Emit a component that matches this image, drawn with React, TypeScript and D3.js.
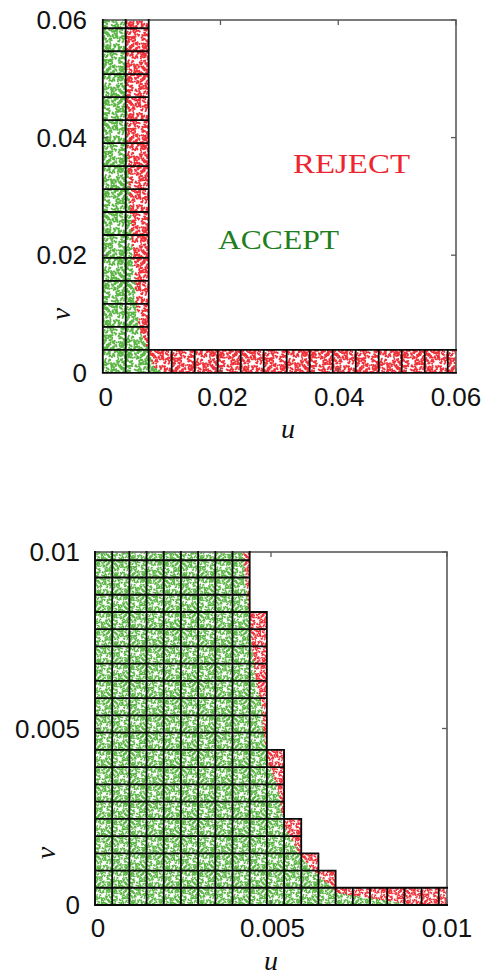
import React from "react";
import * as d3 from "d3";

// ---- data ----
const topDomain = [0, 0.06];
const topTicks = [0, 0.02, 0.04, 0.06];
const topTickLabels = ["0", "0.02", "0.04", "0.06"];
const topCellSize = 1 / 256;
const topColumnRows = [16, 16, 1, 1, 1, 1, 1, 1, 1, 1, 1, 1, 1, 1, 1, 1];
const topBoundaryV = [0, 0.0011, 0.0037, 0.0039, 0.0061, 0.0076, 0.0112, 0.0153, 0.0226, 0.038, 0.06];
const topBoundaryU = [0.0106, 0.0086, 0.0079, 0.0078, 0.0066, 0.0063, 0.0058, 0.0055, 0.005, 0.0042, 0.0039];

const bottomDomain = [0, 0.01];
const bottomTicks = [0, 0.005, 0.01];
const bottomTickLabels = ["0", "0.005", "0.01"];
const bottomCellSize = 1 / 2048;
const bottomColumnRows = [21, 21, 21, 21, 21, 21, 21, 21, 21, 17, 9, 5, 3, 2, 1, 1, 1, 1, 1, 1, 1];
const bottomBoundaryV = [0, 0.00006, 0.00034, 0.0008, 0.0013, 0.0018, 0.0022, 0.0027, 0.0031, 0.0037, 0.0041, 0.005, 0.0056, 0.0061, 0.0066, 0.0075, 0.0091, 0.0095, 0.01];
const bottomBoundaryU = [0.0095, 0.0087, 0.0069, 0.0064, 0.0059, 0.00563, 0.0054, 0.0053, 0.00525, 0.00506, 0.0049, 0.00478, 0.00474, 0.00463, 0.00455, 0.00445, 0.0043, 0.00426, 0.0042];

// hand-placed speckle inside one cell, in percent of the cell
const speckleX = [3, 11, 19, 28, 36, 47, 55, 63, 74, 82, 91, 97, 6, 15, 24, 33, 41, 52, 59, 69, 78, 87, 95, 2, 9, 21, 30, 38, 44, 57, 66, 72, 84, 93, 14, 26, 35, 49, 61, 76, 89, 5, 17, 31, 43, 53, 67, 80, 98, 8, 23, 39, 51, 64, 71, 85, 94, 12, 27, 46, 58, 77, 88, 4, 20, 37, 50, 62, 73, 83, 96, 16, 29, 42, 56, 68, 79, 90];
const speckleY = [7, 3, 12, 5, 9, 2, 14, 6, 11, 4, 8, 15, 22, 18, 27, 19, 24, 17, 29, 21, 16, 26, 23, 35, 41, 33, 38, 30, 44, 36, 31, 42, 34, 39, 50, 47, 55, 43, 48, 52, 46, 58, 63, 53, 60, 65, 56, 61, 51, 72, 68, 75, 70, 66, 78, 69, 74, 85, 81, 77, 83, 73, 88, 93, 89, 84, 92, 87, 96, 80, 82, 98, 95, 99, 90, 94, 86, 97];
// how the two lists above are paired up into dots
const specklePairings = [37, 23, 17];
// gaps in the speckle, in percent of the cell
const gapX = [24, 68, 52, 14, 84, 42, 78, 34, 8, 60];
const gapY = [30, 18, 58, 72, 68, 90, 42, 50, 14, 84];
const gapR = [9, 8, 10, 8, 7, 7, 6, 6, 6, 6];

const GREEN = "#5ab544";
const RED = "#ee3038";
const FRAME = "#5a5a5a";
const SANS = "'Liberation Sans', Arial, sans-serif";
const SERIF = "'Liberation Serif', serif";

function speckleInCell(i: number, j: number) {
  const k = (i * 3 + j * 5) % 4;
  const out: [number, number][] = [];
  const keep = (p: [number, number]) => {
    const inGap = gapX.some((gx, n) => Math.hypot(p[0] - gx, p[1] - gapY[n]) < gapR[n]);
    if (inGap) return;
    out.push(k === 0 ? p : k === 1 ? [p[1], 100 - p[0]] : k === 2 ? [100 - p[0], 100 - p[1]] : [100 - p[1], p[0]]);
  };
  speckleX.forEach((px, n) => {
    specklePairings.forEach((m) => keep([px, speckleY[(n * m + m) % speckleY.length]]));
  });
  return out;
}

type PanelProps = {
  x0: number; x1: number; y0: number; y1: number;
  domain: number[]; ticks: number[]; tickLabels: string[];
  cell: number; columnRows: number[]; boundaryV: number[]; boundaryU: number[];
  dotWidth: number; clipId: string;
  xLabelY: number; uX: number; uY: number; vX: number; vY: number; yLabelX: number; xLabelNudge: number;
};

function Panel(p: PanelProps) {
  const x = d3.scaleLinear().domain(p.domain).range([p.x0, p.x1]);
  const y = d3.scaleLinear().domain(p.domain).range([p.y1, p.y0]);
  const boundary = d3.scaleLinear().domain(p.boundaryV).range(p.boundaryU).clamp(true);
  const green = d3.path();
  const red = d3.path();
  const grid = d3.path();
  p.columnRows.forEach((rows, i) => {
    for (let j = 0; j < rows; j++) {
      for (const [px, py] of speckleInCell(i, j)) {
        const u = (i + px / 100) * p.cell;
        const v = (j + py / 100) * p.cell;
        if (u > p.domain[1] || v > p.domain[1]) continue;
        const path = u < boundary(v) ? green : red;
        path.moveTo(x(u), y(v));
        path.lineTo(x(u) + 0.01, y(v));
      }
      grid.rect(x(i * p.cell), y((j + 1) * p.cell), x(p.cell) - x(0), y(0) - y(p.cell));
    }
  });
  return (
    <g>
      <defs>
        <clipPath id={p.clipId}><rect x={p.x0} y={p.y0} width={p.x1 - p.x0} height={p.y1 - p.y0} /></clipPath>
        <clipPath id={`${p.clipId}g`}><rect x={p.x0 - 1} y={p.y0 - 1} width={p.x1 - p.x0 + 2} height={p.y1 - p.y0 + 2} /></clipPath>
      </defs>
      <g clipPath={`url(#${p.clipId})`} filter="url(#soft)">
        <path d={green.toString()} fill="none" stroke={GREEN} strokeWidth={p.dotWidth} strokeLinecap="round" />
        <path d={red.toString()} fill="none" stroke={RED} strokeWidth={p.dotWidth} strokeLinecap="round" />
      </g>
      <rect x={p.x0} y={p.y0} width={p.x1 - p.x0} height={p.y1 - p.y0} fill="none" stroke={FRAME} strokeWidth={1.6} />
      {p.ticks.map((t) => (
        <g key={t} stroke={FRAME} strokeWidth={1.3}>
          <line x1={x(t)} x2={x(t)} y1={p.y1} y2={p.y1 - 5} />
          <line x1={x(t)} x2={x(t)} y1={p.y0} y2={p.y0 + 5} />
          <line x1={p.x0} x2={p.x0 + 5} y1={y(t)} y2={y(t)} />
          <line x1={p.x1} x2={p.x1 - 5} y1={y(t)} y2={y(t)} />
        </g>
      ))}
      <g clipPath={`url(#${p.clipId}g)`}>
        <path d={grid.toString()} fill="none" stroke="#0a0a0a" strokeWidth={1.8} />
      </g>
      {p.ticks.map((t, i) => (
        <text key={`y${t}`} x={p.yLabelX} y={y(t) + 9} textAnchor="end" fontFamily={SANS} fontSize={26} fill="#111">{p.tickLabels[i]}</text>
      ))}
      {p.ticks.map((t, i) => (
        <text key={`x${t}`} x={x(t) + p.xLabelNudge * (1 - i / (p.ticks.length - 1))} y={p.xLabelY} textAnchor="middle" fontFamily={SANS} fontSize={26} fill="#111">{p.tickLabels[i]}</text>
      ))}
      <text x={p.uX} y={p.uY} textAnchor="middle" fontFamily={SERIF} fontStyle="italic" fontSize={28} fill="#111">u</text>
      <text transform={`translate(${p.vX},${p.vY}) rotate(-90)`} textAnchor="middle" fontFamily={SERIF} fontStyle="italic" fontSize={28} fill="#111">v</text>
    </g>
  );
}

export default function App() {
  return (
    <svg width={486} height={976} viewBox="0 0 486 976" style={{ position: "absolute", left: 0, top: 0, background: "#fff" }}>
      <defs>
        <filter id="soft" x="0" y="0" width="1" height="1"><feGaussianBlur stdDeviation="0.3" /></filter>
      </defs>
      <Panel x0={102.7} x1={456} y0={20} y1={372.8} domain={topDomain} ticks={topTicks} tickLabels={topTickLabels}
        cell={topCellSize} columnRows={topColumnRows} boundaryV={topBoundaryV} boundaryU={topBoundaryU}
        dotWidth={2} clipId="clipTop" xLabelY={406} uX={288} uY={438} vX={70} vY={314} yLabelX={87} xLabelNudge={3} />
      <Panel x0={95} x1={447} y0={552} y1={905} domain={bottomDomain} ticks={bottomTicks} tickLabels={bottomTickLabels}
        cell={bottomCellSize} columnRows={bottomColumnRows} boundaryV={bottomBoundaryV} boundaryU={bottomBoundaryU}
        dotWidth={1.5} clipId="clipBottom" xLabelY={937} uX={271} uY={970} vX={55} vY={853} yLabelX={80} xLabelNudge={3} />
      <text x={218} y={249} fontFamily={SERIF} fontSize={28} fill="#1f7f1f" textLength={121} lengthAdjust="spacingAndGlyphs">ACCEPT</text>
      <text x={293} y={173} fontFamily={SERIF} fontSize={28} fill="#ee2530" textLength={117} lengthAdjust="spacingAndGlyphs">REJECT</text>
    </svg>
  );
}
